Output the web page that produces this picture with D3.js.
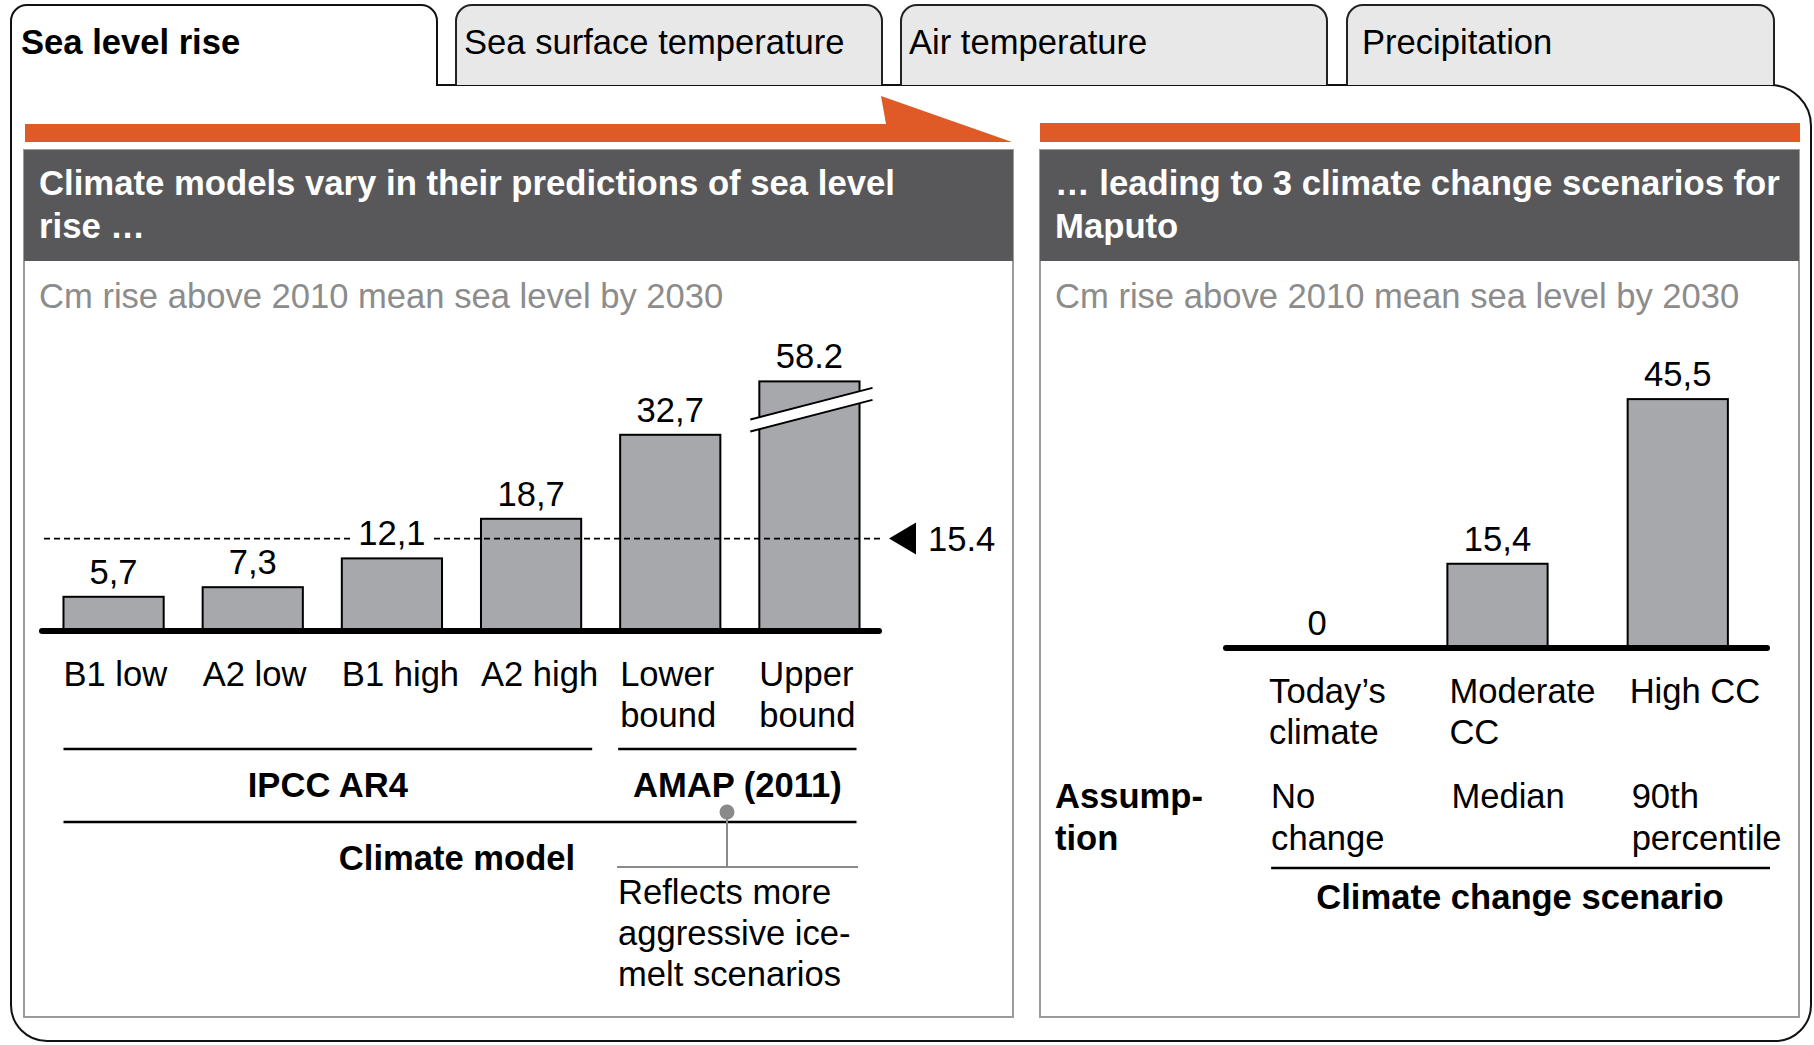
<!DOCTYPE html>
<html>
<head>
<meta charset="utf-8">
<script src="https://cdn.jsdelivr.net/npm/d3@7"></script>
<style>
    body { margin: 0; background: #fff; }
    text { font-family: "Liberation Sans", Arial, Helvetica, sans-serif; }
</style>
</head>
<body>
<div id="chart"></div>
<script>

// tab labels
let tabNames = ["Sea level rise", "Sea surface temperature", "Air temperature", "Precipitation"];

// left panel - climate models
let modelNames = [["B1 low"], ["A2 low"], ["B1 high"], ["A2 high"], ["Lower", "bound"], ["Upper", "bound"]];
let modelValues = [5.7, 7.3, 12.1, 18.7, 32.7, 58.2];
let modelLabels = ["5,7", "7,3", "12,1", "18,7", "32,7", "58.2"];
let modelGroups = ["IPCC AR4", "AMAP (2011)"];
let medianValue = 15.4;
let medianLabel = "15.4";
let amapNote = ["Reflects more", "aggressive ice-", "melt scenarios"];

// right panel - scenarios for Maputo
let scenarioNames = [["Today\u2019s", "climate"], ["Moderate", "CC"], ["High CC"]];
let scenarioValues = [0, 15.4, 45.5];
let scenarioLabels = ["0", "15,4", "45,5"];
let assumptions = [["No", "change"], ["Median"], ["90th", "percentile"]];

let subtitle = "Cm rise above 2010 mean sea level by 2030";

const W = 1814, H = 1045;
const FS = 34.6;
const orange = "#e05a28", darkGrey = "#58585a", barGrey = "#a7a8ab";

let svg = d3.select("#chart").append("svg")
    .attr("width", W)
    .attr("height", H);


/* * * * * * * * * * * * * *
*      class BarPanel      *
* * * * * * * * * * * * * */

class BarPanel {

    constructor(svg, opts) {
        this.svg = svg;
        this.opts = opts;
        this.initVis();
    }

    initVis() {
        let vis = this;
        let o = vis.opts;

        vis.g = vis.svg.append("g").attr("class", o.id);

        // panel frame
        vis.g.append("rect")
            .attr("x", o.left).attr("y", 150)
            .attr("width", o.right - o.left).attr("height", 867)
            .attr("fill", "#fff")
            .attr("stroke", "#9b9b9b")
            .attr("stroke-width", 2);

        // dark header
        vis.g.append("rect")
            .attr("x", o.left).attr("y", 150)
            .attr("width", o.right - o.left).attr("height", 111)
            .attr("fill", darkGrey);

        let head = vis.g.append("text")
            .attr("fill", "#fff")
            .attr("font-weight", "bold")
            .attr("font-size", 34.7);
        o.title.forEach((t, i) => {
            head.append("tspan").attr("x", o.left + 15).attr("y", 195 + i * 43).text(t);
        });

        vis.g.append("text")
            .attr("x", o.left + 15).attr("y", 308)
            .attr("fill", "#8c8c8c")
            .attr("font-size", FS)
            .text(subtitle);

        // init scales
        vis.x = d3.scaleBand()
            .domain(d3.range(o.values.length))
            .range(o.xRange)
            .paddingInner(o.padIn)
            .paddingOuter(o.padOut);

        vis.y = d3.scaleLinear()
            .domain(o.yDomain)
            .range(o.yRange);

        vis.base = vis.y(0);
        vis.cap = o.cap || Infinity;

        vis.updateVis();
    }

    updateVis() {
        let vis = this;
        let o = vis.opts;

        // bars
        vis.g.selectAll(".bar")
            .data(o.values)
            .join("rect")
            .attr("class", "bar")
            .attr("x", (d, i) => vis.x(i))
            .attr("y", d => vis.y(Math.min(d, vis.cap)))
            .attr("width", vis.x.bandwidth())
            .attr("height", d => vis.base - vis.y(Math.min(d, vis.cap)))
            .attr("fill", barGrey)
            .attr("stroke", "#000")
            .attr("stroke-width", 2)
            .style("display", d => d > 0 ? null : "none");

        // baseline
        vis.g.append("line")
            .attr("x1", o.xRange[0] - 2).attr("x2", o.xRange[1])
            .attr("y1", vis.base).attr("y2", vis.base)
            .attr("stroke", "#000")
            .attr("stroke-width", 6)
            .attr("stroke-linecap", "round");

        // category labels (left aligned to the bar)
        o.names.forEach((lines, i) => {
            let t = vis.g.append("text")
                .attr("font-size", FS)
                .attr("fill", "#000");
            lines.forEach((l, j) => {
                t.append("tspan")
                    .attr("x", vis.x(i) + (o.labelDx || 0))
                    .attr("y", vis.base + 55 + j * 41)
                    .text(l);
            });
        });
    }

    drawValueLabels() {
        let vis = this;
        let o = vis.opts;

        // on top of everything drawn so far (white patch cuts the dashed line)
        vis.labelGroup = vis.g.append("g").attr("class", "valueLabels");

        o.labels.forEach((lab, i) => {
            let cx = vis.x(i) + vis.x.bandwidth() / 2;
            let cy = vis.y(Math.min(o.values[i], vis.cap)) - 13;
            let bg = vis.labelGroup.append("rect").attr("fill", "#fff");
            let t = vis.labelGroup.append("text")
                .attr("x", cx).attr("y", cy)
                .attr("text-anchor", "middle")
                .attr("font-size", FS)
                .text(lab);
            let bb = t.node().getBBox();
            bg.attr("x", bb.x - 8).attr("y", bb.y + 4)
                .attr("width", bb.width + 16).attr("height", bb.height - 10);
        });
    }
}


// outer tab frame
let frame = d3.path();
frame.moveTo(437, 85);
frame.lineTo(1770, 85);
frame.arcTo(1811, 85, 1811, 126, 41);
frame.lineTo(1811, 1005);
frame.arcTo(1811, 1041, 1775, 1041, 36);
frame.lineTo(47, 1041);
frame.arcTo(11, 1041, 11, 1005, 36);
frame.lineTo(11, 21);
frame.arcTo(11, 5, 27, 5, 16);
frame.lineTo(421, 5);
frame.arcTo(437, 5, 437, 21, 16);
frame.closePath();

svg.append("path")
    .attr("d", frame.toString())
    .attr("fill", "#fff")
    .attr("stroke", "#111")
    .attr("stroke-width", 2);

// other tabs
let tabEdges = [[11, 437], [456, 882], [901, 1327], [1347, 1774]];
let tabPad = [10, 8, 8, 15];

tabNames.forEach((name, i) => {
    let [x0, x1] = tabEdges[i];
    if (i > 0) {
        let p = d3.path();
        p.moveTo(x0, 85);
        p.lineTo(x0, 21);
        p.arcTo(x0, 5, x0 + 16, 5, 16);
        p.lineTo(x1 - 16, 5);
        p.arcTo(x1, 5, x1, 21, 16);
        p.lineTo(x1, 85);
        svg.append("path")
            .attr("d", p.toString())
            .attr("fill", "#e8e8e8")
            .attr("stroke", "#222")
            .attr("stroke-width", 2);
    }
    svg.append("text")
        .attr("x", x0 + tabPad[i]).attr("y", 54)
        .attr("font-size", FS)
        .attr("font-weight", i === 0 ? "bold" : "normal")
        .text(name);
});

// orange arrow + bar
svg.append("path")
    .attr("d", "M25,124 L886,124 L881,96 L1012,142 L25,142 Z")
    .attr("fill", orange);
svg.append("rect")
    .attr("x", 1040).attr("y", 123)
    .attr("width", 760).attr("height", 19)
    .attr("fill", orange);


// left panel
let models = new BarPanel(svg, {
    id: "models",
    left: 24, right: 1013,
    title: ["Climate models vary in their predictions of sea level", "rise \u2026"],
    names: modelNames,
    values: modelValues,
    labels: modelLabels,
    xRange: [44, 879], padIn: 0.28, padOut: 0.14,
    yDomain: [0, 60], yRange: [631, 271],
    cap: 41.6
});

// dashed median line (drawn over the bars)
let yMed = models.y(medianValue);
models.g.append("line")
    .attr("x1", 44).attr("x2", 880)
    .attr("y1", yMed).attr("y2", yMed)
    .attr("stroke", "#000")
    .attr("stroke-width", 1.6)
    .attr("stroke-dasharray", "6,4");

models.g.append("path")
    .attr("d", `M889,${yMed} L916,${yMed - 16} L916,${yMed + 16} Z`)
    .attr("fill", "#000");

models.g.append("text")
    .attr("x", 928).attr("y", yMed + 12)
    .attr("font-size", FS)
    .text(medianLabel);

// axis break on the last bar
let lastX = models.x(modelValues.length - 1);
let lastW = models.x.bandwidth();
let yBreak = models.y(36.8);
let bx0 = lastX - 9, bx1 = lastX + lastW + 13;
let slope = -31 / 120;
let ptTop = (x) => yBreak - 6 + (x - (lastX + lastW / 2)) * slope;
let ptBot = (x) => yBreak + 6 + (x - (lastX + lastW / 2)) * slope;

models.g.append("path")
    .attr("d", `M${bx0},${ptTop(bx0)} L${bx1},${ptTop(bx1)} L${bx1},${ptBot(bx1)} L${bx0},${ptBot(bx0)} Z`)
    .attr("fill", "#fff");
[ptTop, ptBot].forEach(f => {
    models.g.append("line")
        .attr("x1", bx0).attr("y1", f(bx0))
        .attr("x2", bx1).attr("y2", f(bx1))
        .attr("stroke", "#000")
        .attr("stroke-width", 2);
});

models.drawValueLabels();

// group lines + labels
let bw = models.x.bandwidth();
let groupSpans = [[models.x(0), models.x(3) + bw + 11], [models.x(4) - 2, models.x(5) + bw - 3]];

groupSpans.forEach((s, i) => {
    models.g.append("line")
        .attr("x1", s[0]).attr("x2", s[1])
        .attr("y1", 749).attr("y2", 749)
        .attr("stroke", "#000").attr("stroke-width", 2.5);
    models.g.append("text")
        .attr("x", (s[0] + s[1]) / 2).attr("y", 797)
        .attr("text-anchor", "middle")
        .attr("font-size", FS)
        .attr("font-weight", "bold")
        .text(modelGroups[i]);
});

models.g.append("line")
    .attr("x1", groupSpans[0][0]).attr("x2", groupSpans[1][1])
    .attr("y1", 822).attr("y2", 822)
    .attr("stroke", "#000").attr("stroke-width", 2.5);

models.g.append("text")
    .attr("x", 457).attr("y", 870)
    .attr("text-anchor", "middle")
    .attr("font-size", FS)
    .attr("font-weight", "bold")
    .text("Climate model");

// AMAP note
models.g.append("line")
    .attr("x1", 727).attr("x2", 727)
    .attr("y1", 812).attr("y2", 867)
    .attr("stroke", "#8a8a8a").attr("stroke-width", 2);
models.g.append("line")
    .attr("x1", 617).attr("x2", 858)
    .attr("y1", 867).attr("y2", 867)
    .attr("stroke", "#8a8a8a").attr("stroke-width", 2);
models.g.append("circle")
    .attr("cx", 727).attr("cy", 812).attr("r", 7.5)
    .attr("fill", "#8a8a8a");

let note = models.g.append("text").attr("font-size", FS);
amapNote.forEach((l, i) => {
    note.append("tspan").attr("x", 618).attr("y", 904 + i * 41).text(l);
});


// right panel
let scenarios = new BarPanel(svg, {
    id: "scenarios",
    left: 1040, right: 1799,
    title: ["\u2026 leading to 3 climate change scenarios for", "Maputo"],
    names: scenarioNames,
    values: scenarioValues,
    labels: scenarioLabels,
    xRange: [1228, 1767], padIn: 0.444, padOut: 0.217,
    yDomain: [0, 50], yRange: [648, 374.5],
    labelDx: 2
});
scenarios.drawValueLabels();

// assumptions row
let assump = scenarios.g.append("text")
    .attr("font-size", FS)
    .attr("font-weight", "bold");
["Assump-", "tion"].forEach((l, i) => {
    assump.append("tspan").attr("x", 1055).attr("y", 808 + i * 42).text(l);
});

assumptions.forEach((lines, i) => {
    let t = scenarios.g.append("text").attr("font-size", FS);
    lines.forEach((l, j) => {
        t.append("tspan")
            .attr("x", scenarios.x(i) + 4)
            .attr("y", 808 + j * 42)
            .text(l);
    });
});

scenarios.g.append("line")
    .attr("x1", scenarios.x(0) + 4).attr("x2", 1770)
    .attr("y1", 868).attr("y2", 868)
    .attr("stroke", "#000").attr("stroke-width", 2.5);

scenarios.g.append("text")
    .attr("x", 1520).attr("y", 909)
    .attr("text-anchor", "middle")
    .attr("font-size", FS)
    .attr("font-weight", "bold")
    .text("Climate change scenario");

</script>
</body>
</html>
